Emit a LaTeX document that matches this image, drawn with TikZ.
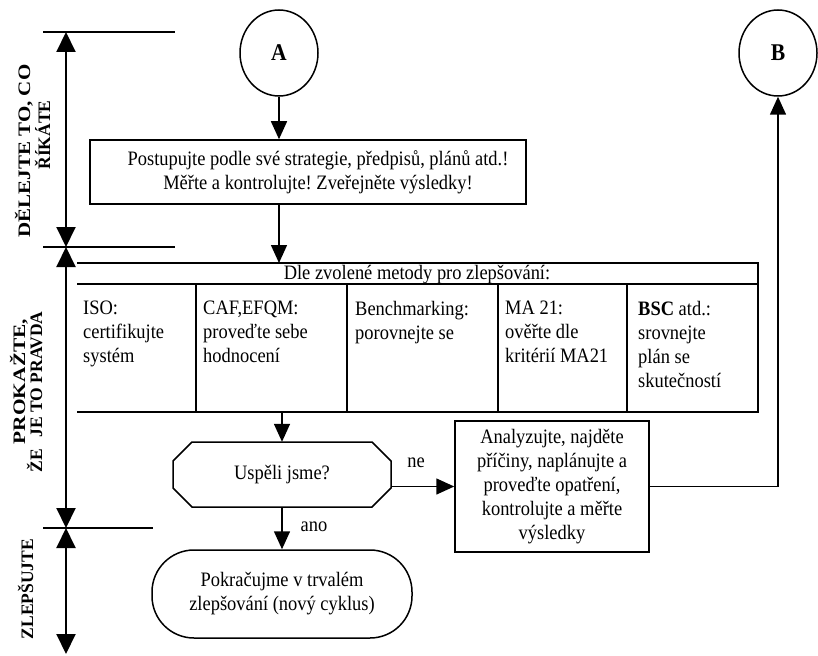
\documentclass[tikz,border=0pt]{standalone}
\usepackage{fontspec}
\usepackage{graphicx}
\setmainfont{Liberation Serif}[FakeStretch=0.9]
\newfontfamily\rotfont{Liberation Serif}
\usetikzlibrary{arrows.meta,shapes.geometric}
\frenchspacing
\begin{document}
\begin{tikzpicture}[x=1pt,y=-1pt,
  font=\fontsize{20.5}{24}\selectfont,
  ln/.style={line width=1.5pt},
  flow/.style={ln,-{Triangle[length=18pt,width=16pt]}},
  axis/.style={line width=2pt,{Triangle[length=20pt,width=19pt]}-{Triangle[length=20pt,width=19pt]}},
  conn/.style={draw,ln,ellipse,minimum width=78pt,minimum height=86pt,inner sep=0pt,
    font=\fontsize{24}{28}\selectfont\bfseries},
  box/.style={draw,ln,align=center,inner sep=0pt},
  cell/.style={anchor=north west,align=left,inner sep=0pt},
  sec/.style={rotate=90,anchor=base,inner sep=0pt,
    font=\rotfont\bfseries\fontsize{17.5}{20}\selectfont},
  lbl/.style={inner sep=0pt}]
\useasboundingbox (0,0) rectangle (818,655);

% phase axis on the left
\coordinate (a1) at (66,32);
\coordinate (a2) at (66,247);
\coordinate (a3) at (66,528);
\coordinate (a4) at (66,654);
\draw[ln] ([xshift=-23pt]a1) -- ([xshift=109pt]a1);
\draw[ln] ([xshift=-23pt]a2) -- ([xshift=109pt]a2);
\draw[ln] ([xshift=-23pt]a3) -- ([xshift=87pt]a3);
\draw[axis] (a1) -- (a2);
\draw[axis] (a2) -- (a3);
\draw[axis] (a3) -- (a4);

% phase names
\node[sec] (s1a) at (30,151) {\scalebox{1.2}[1]{DĚLEJTE TO, CO}};
\node[sec] (s1b) at (50,135) {ŘÍKÁTE};
\node[sec] (s2a) at (25,381.5) {\scalebox{1.22}[1]{PROKAŽTE,}};
\node[sec] (s2b) at (42,392) {ŽE\hspace{12pt}JE TO PRAVDA};
\node[sec] (s3) at (33,589) {ZLEPŠUJTE};

% connectors A and B
\node[conn] (A) at (279,53) {A};
\node[conn] (B) at (778,53) {B};

% first step
\node[box,minimum width=436pt,minimum height=64pt] (b1) at (308,172) {};
\node[lbl,align=center] (b1t) at (318,172)
  {Postupujte podle své strategie, předpisů, plánů atd.!\\Měřte a kontrolujte! Zveřejněte výsledky!};
\draw[flow] (A) -- (A |- b1.north);

% table of improvement methods
\coordinate (tl) at (77,263);
\coordinate (tr) at (758,263);
\coordinate (br) at (758,412);
\coordinate (bl) at (77,412);
\draw[ln] (tl) -- (tr) -- (br) -- (bl);
\draw[ln] (77,284) -- (758,284);
\foreach \x in {196,347,498,627} \draw[ln] (\x,284) -- (\x,412);
\node[lbl,anchor=base] (hdr) at (417,279) {Dle zvolené metody pro zlepšování:};
\draw[flow] (A |- b1.south) -- (A |- tl);

\node[cell] (c1) at (83,301) {ISO:\\certifikujte\\systém};
\node[cell] (c2) at (203,301) {CAF,EFQM:\\proveďte sebe\\hodnocení};
\node[cell] (c3) at (355,301) {Benchmarking:\\porovnejte se};
\node[cell] (c4) at (505,301) {MA 21:\\ověřte dle\\kritérií MA21};
\node[cell] (c5) at (638,301) {\textbf{BSC} atd.:\\srovnejte\\plán se\\skutečností};

% decision
\node[lbl,minimum width=218pt,minimum height=65pt] (q) at (282,474.5) {Uspěli jsme?};
\draw[ln] (192,442) -- (372,442) -- (391,461) -- (391,488) -- (372,507)
  -- (192,507) -- (173,488) -- (173,461) -- cycle;
\draw[flow] (q |- bl) -- (q.north);

% corrective action
\node[box,minimum width=194pt,minimum height=131pt] (an) at (552,486.5)
  {Analyzujte, najděte\\příčiny, naplánujte a\\proveďte opatření,\\kontrolujte a měřte\\výsledky};
\draw[flow] (q.east |- an.west) -- (an.west);
\node[lbl] (ne) at (416,463) {ne};
\draw[flow] (an.east) -| (B.south);

% continuation
\node[box,minimum width=260pt,minimum height=88pt,rounded corners=42pt] (p) at (282,594)
  {Pokračujme v trvalém\\zlepšování (nový cyklus)};
\draw[flow] (q.south) -- (p.north);
\node[lbl] (ano) at (314,527) {ano};
\end{tikzpicture}
\end{document}
